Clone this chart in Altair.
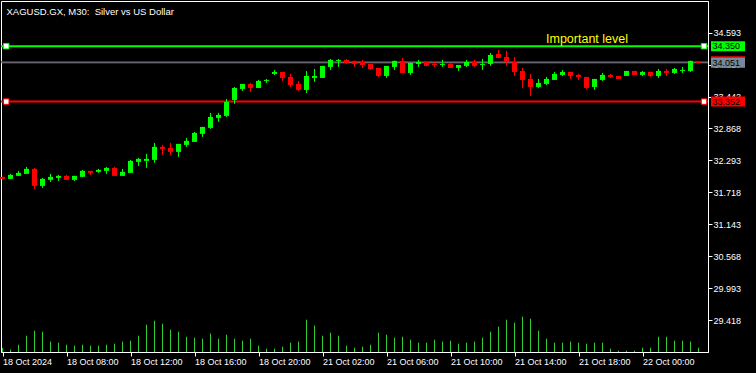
import json
import altair as alt
import pandas as pd

title_text = "XAGUSD.GX, M30: \u00a0Silver vs US Dollar"

opens = [31.996, 31.960, 32.014, 32.050, 32.140, 31.834, 31.942, 31.978, 32.014, 31.942,
         31.996, 32.104, 32.086, 32.104, 32.158, 32.014, 32.068, 32.266, 32.284, 32.302,
         32.536, 32.518, 32.446, 32.572, 32.626, 32.770, 32.878, 33.058, 33.094, 33.382,
         33.580, 33.670, 33.598, 33.724, 33.850, 33.886, 33.796, 33.670, 33.562, 33.778,
         33.778, 33.976, 34.084, 34.102, 34.084, 34.066, 34.030, 33.958, 33.814, 33.976,
         34.084, 33.868, 34.030, 34.066, 34.030, 34.012, 34.030, 33.958, 33.994, 34.066,
         34.012, 34.030, 34.210, 34.156, 34.066, 33.904, 33.760, 33.616, 33.670, 33.742,
         33.832, 33.886, 33.832, 33.796, 33.616, 33.742, 33.832, 33.814, 33.814, 33.904,
         33.832, 33.886, 33.814, 33.904, 33.868, 33.904, 33.904, 34.070]
closes = [31.960, 32.032, 32.068, 32.140, 31.834, 31.960, 31.996, 32.014, 31.942, 32.014,
          32.104, 32.068, 32.122, 32.158, 32.014, 32.086, 32.284, 32.320, 32.320, 32.536,
          32.500, 32.446, 32.590, 32.644, 32.788, 32.896, 33.076, 33.112, 33.346, 33.598,
          33.670, 33.598, 33.724, 33.742, 33.886, 33.778, 33.652, 33.562, 33.814, 33.814,
          33.994, 34.102, 34.102, 34.048, 34.030, 34.012, 33.940, 33.814, 33.994, 34.084,
          33.868, 34.048, 34.066, 33.994, 34.012, 34.030, 33.958, 34.012, 34.066, 33.994,
          34.030, 34.192, 34.138, 34.066, 33.886, 33.742, 33.616, 33.688, 33.760, 33.850,
          33.886, 33.814, 33.796, 33.598, 33.760, 33.832, 33.796, 33.760, 33.904, 33.832,
          33.886, 33.814, 33.904, 33.868, 33.940, 33.922, 34.084, 34.051]
highs = [32.000, 32.050, 32.104, 32.176, 32.158, 31.978, 32.050, 32.032, 32.032, 32.014,
         32.122, 32.104, 32.140, 32.176, 32.176, 32.140, 32.302, 32.338, 32.410, 32.608,
         32.572, 32.608, 32.590, 32.698, 32.806, 32.896, 33.148, 33.148, 33.400, 33.616,
         33.670, 33.688, 33.742, 33.760, 33.922, 33.886, 33.850, 33.724, 33.904, 33.940,
         33.994, 34.120, 34.120, 34.120, 34.090, 34.102, 34.030, 33.958, 33.994, 34.090,
         34.138, 34.048, 34.102, 34.070, 34.066, 34.102, 34.048, 34.012, 34.102, 34.102,
         34.120, 34.228, 34.282, 34.264, 34.156, 33.958, 33.850, 33.760, 33.796, 33.886,
         33.922, 33.886, 33.850, 33.796, 33.760, 33.868, 33.850, 33.814, 33.904, 33.904,
         33.904, 33.886, 33.940, 33.940, 33.958, 33.976, 34.090, 34.084]
lows = [31.950, 31.960, 32.014, 32.050, 31.780, 31.798, 31.906, 31.924, 31.942, 31.924,
        31.996, 32.032, 32.068, 32.050, 32.014, 32.014, 32.068, 32.194, 32.158, 32.248,
        32.392, 32.392, 32.356, 32.536, 32.626, 32.716, 32.860, 32.986, 33.076, 33.310,
        33.544, 33.526, 33.598, 33.688, 33.832, 33.724, 33.616, 33.544, 33.508, 33.706,
        33.778, 33.922, 33.976, 34.030, 33.976, 33.958, 33.922, 33.796, 33.778, 33.922,
        33.868, 33.832, 33.976, 33.990, 33.976, 33.976, 33.958, 33.904, 33.976, 33.976,
        33.922, 33.994, 34.138, 33.994, 33.814, 33.598, 33.454, 33.598, 33.652, 33.742,
        33.814, 33.760, 33.742, 33.580, 33.562, 33.724, 33.778, 33.760, 33.814, 33.832,
        33.814, 33.796, 33.778, 33.814, 33.850, 33.868, 33.886, 34.048]
volumes = [400, 230, 730, 1630, 2130, 2030, 1030, 930, 730, 630,
           730, 630, 630, 730, 830, 1030, 1130, 1630, 2730, 3130,
           2830, 2230, 2030, 1530, 1430, 1330, 1830, 1330, 1730, 1330,
           1130, 1330, 630, 330, 330, 530, 930, 1030, 3230, 2630,
           1630, 1930, 1630, 630, 430, 530, 730, 1930, 1730, 1430,
           1530, 1230, 930, 930, 1230, 1030, 1130, 830, 930, 1030,
           1430, 2030, 2530, 3230, 2930, 3530, 3330, 2130, 1330, 930,
           930, 1030, 930, 830, 930, 930, 330, 130, 130, 130,
           430, 430, 1530, 1530, 1130, 1130, 1030, 430]

tick_index = [0, 8, 16, 24, 32, 40, 48, 56, 64, 72, 80]
tick_labels = ["18 Oct 2024", "18 Oct 08:00", "18 Oct 12:00", "18 Oct 16:00",
               "18 Oct 20:00", "21 Oct 02:00", "21 Oct 06:00", "21 Oct 10:00",
               "21 Oct 14:00", "21 Oct 18:00", "22 Oct 00:00"]
price_ticks = [29.418, 29.993, 30.568, 31.143, 31.718, 32.293, 32.868, 33.442, 34.017, 34.593]

level_prices = [34.350, 33.352]
level_colors = ["#00FF00", "#FF0000"]
level_anchor_index = [0.47, 87.69]
level_label = "Important level"
level_label_index = 67.94
bid = 34.051
ask = 34.069

UP, DOWN = "#00FF00", "#FF0000"
FONT = "Liberation Sans"

n = len(opens)
df = pd.DataFrame({"k": list(range(n)), "open": opens, "high": highs, "low": lows,
                   "close": closes, "vol": volumes})
df["color"] = [UP if c >= o else DOWN for o, c in zip(opens, closes)]

x_scale = alt.Scale(domain=[-0.1875, 88.1875], nice=False, zero=False, padding=0)
y_scale = alt.Scale(domain=[28.842, 35.1636], nice=False, zero=False, padding=0)

label_expr = json.dumps(tick_labels) + "[indexof(" + json.dumps(tick_index) + ", datum.value)]"

x_axis = alt.Axis(values=tick_index, labelExpr=label_expr, orient="bottom", title=None,
                  grid=False, tickSize=4, tickColor="white", domainColor="white",
                  labelColor="white", labelFont=FONT, labelFontSize=9, labelAlign="left",
                  labelPadding=1.5, labelFlush=False, labelOverlap=False, labelBaseline="top")
y_axis = alt.Axis(values=price_ticks, format=".3f", orient="right", title=None, grid=False,
                  tickSize=4, tickColor="white", domainColor="white", labelColor="white",
                  labelFont=FONT, labelFontSize=9, labelPadding=1, labelOverlap=False,
                  labelFlush=False)

X = alt.X("k:Q", scale=x_scale, axis=x_axis)


def Y(field):
    return alt.Y(field, scale=y_scale, axis=y_axis)


base = alt.Chart(df)

vol = base.mark_rule(strokeWidth=1, color="#32CD32").encode(
    x=X,
    y=alt.Y("vol:Q", scale=alt.Scale(domain=[0, 35100], nice=False, zero=True), axis=None),
    y2=alt.datum(0),
)

lv = pd.DataFrame({"price": level_prices, "color": level_colors})
level_lines = alt.Chart(lv).mark_rule(strokeWidth=2).encode(
    y=Y("price:Q"), color=alt.Color("color:N", scale=None))

ba = pd.DataFrame({"price": [ask, bid], "color": ["#FF0000", "#778899"]})
ba_lines = alt.Chart(ba).mark_rule(strokeWidth=1).encode(
    y=Y("price:Q"), color=alt.Color("color:N", scale=None))

wicks = base.mark_rule(strokeWidth=1).encode(
    x=X, y=Y("low:Q"), y2="high:Q", color=alt.Color("color:N", scale=None))
bodies = base.mark_bar(size=5).encode(
    x=X, y=Y("open:Q"), y2="close:Q", color=alt.Color("color:N", scale=None))

hd = pd.DataFrame([{"k": a, "price": p, "color": c}
                   for p, c in zip(level_prices, level_colors) for a in level_anchor_index])
handles = alt.Chart(hd).mark_square(size=30, filled=True, fill="white", strokeWidth=1,
                                    opacity=1).encode(
    x=X, y=Y("price:Q"), stroke=alt.Stroke("color:N", scale=None))

lt = pd.DataFrame({"k": [level_label_index], "price": [level_prices[0]], "t": [level_label]})
label_txt = alt.Chart(lt).mark_text(align="left", baseline="alphabetic", dy=-3, font=FONT,
                                    fontSize=12.5, color="#FFFF00").encode(
    x=X, y=Y("price:Q"), text="t:N")

BOX = "M-1.7,-0.5L1.7,-0.5L1.7,0.5L-1.7,0.5Z"
ask_box = alt.Chart(pd.DataFrame({"price": [bid]})).mark_point(
    shape=BOX, size=400, filled=True, opacity=1, strokeWidth=0, fill="#FF0000",
    yOffset=-1.5).encode(x=alt.value(727), y=Y("price:Q"))

bx = pd.DataFrame({"price": [bid] + level_prices,
                   "fill": ["#778899"] + level_colors})
bx["label"] = [f"{p:.3f}" for p in bx["price"]]
boxes = alt.Chart(bx).mark_point(shape=BOX, size=400, filled=True, opacity=1,
                                 strokeWidth=0).encode(
    x=alt.value(727), y=Y("price:Q"), fill=alt.Fill("fill:N", scale=None))
box_txt = alt.Chart(bx).mark_text(align="left", baseline="middle", font=FONT, fontSize=9,
                                  color="black").encode(
    x=alt.value(711.5), y=Y("price:Q"), text="label:N")

price_layer = alt.layer(level_lines, ba_lines, wicks, bodies, handles, label_txt,
                        ask_box, boxes, box_txt)

chart = alt.layer(vol, price_layer).resolve_scale(y="independent").properties(
    width=707, height=351,
    title=alt.TitleParams(title_text, anchor="start", frame="group", orient="top",
                          offset=-12.5, dx=5.5, dy=11, font=FONT, fontSize=9.5,
                          fontWeight="normal", color="white", baseline="alphabetic"),
    padding={"left": 1, "top": 1, "right": 48, "bottom": 21},
    autosize=alt.AutoSizeParams(type="none"),
    background="#000000",
).configure_view(stroke="white", strokeWidth=1)

chart.save("out.html", embed_options={"renderer": "svg", "actions": False})
